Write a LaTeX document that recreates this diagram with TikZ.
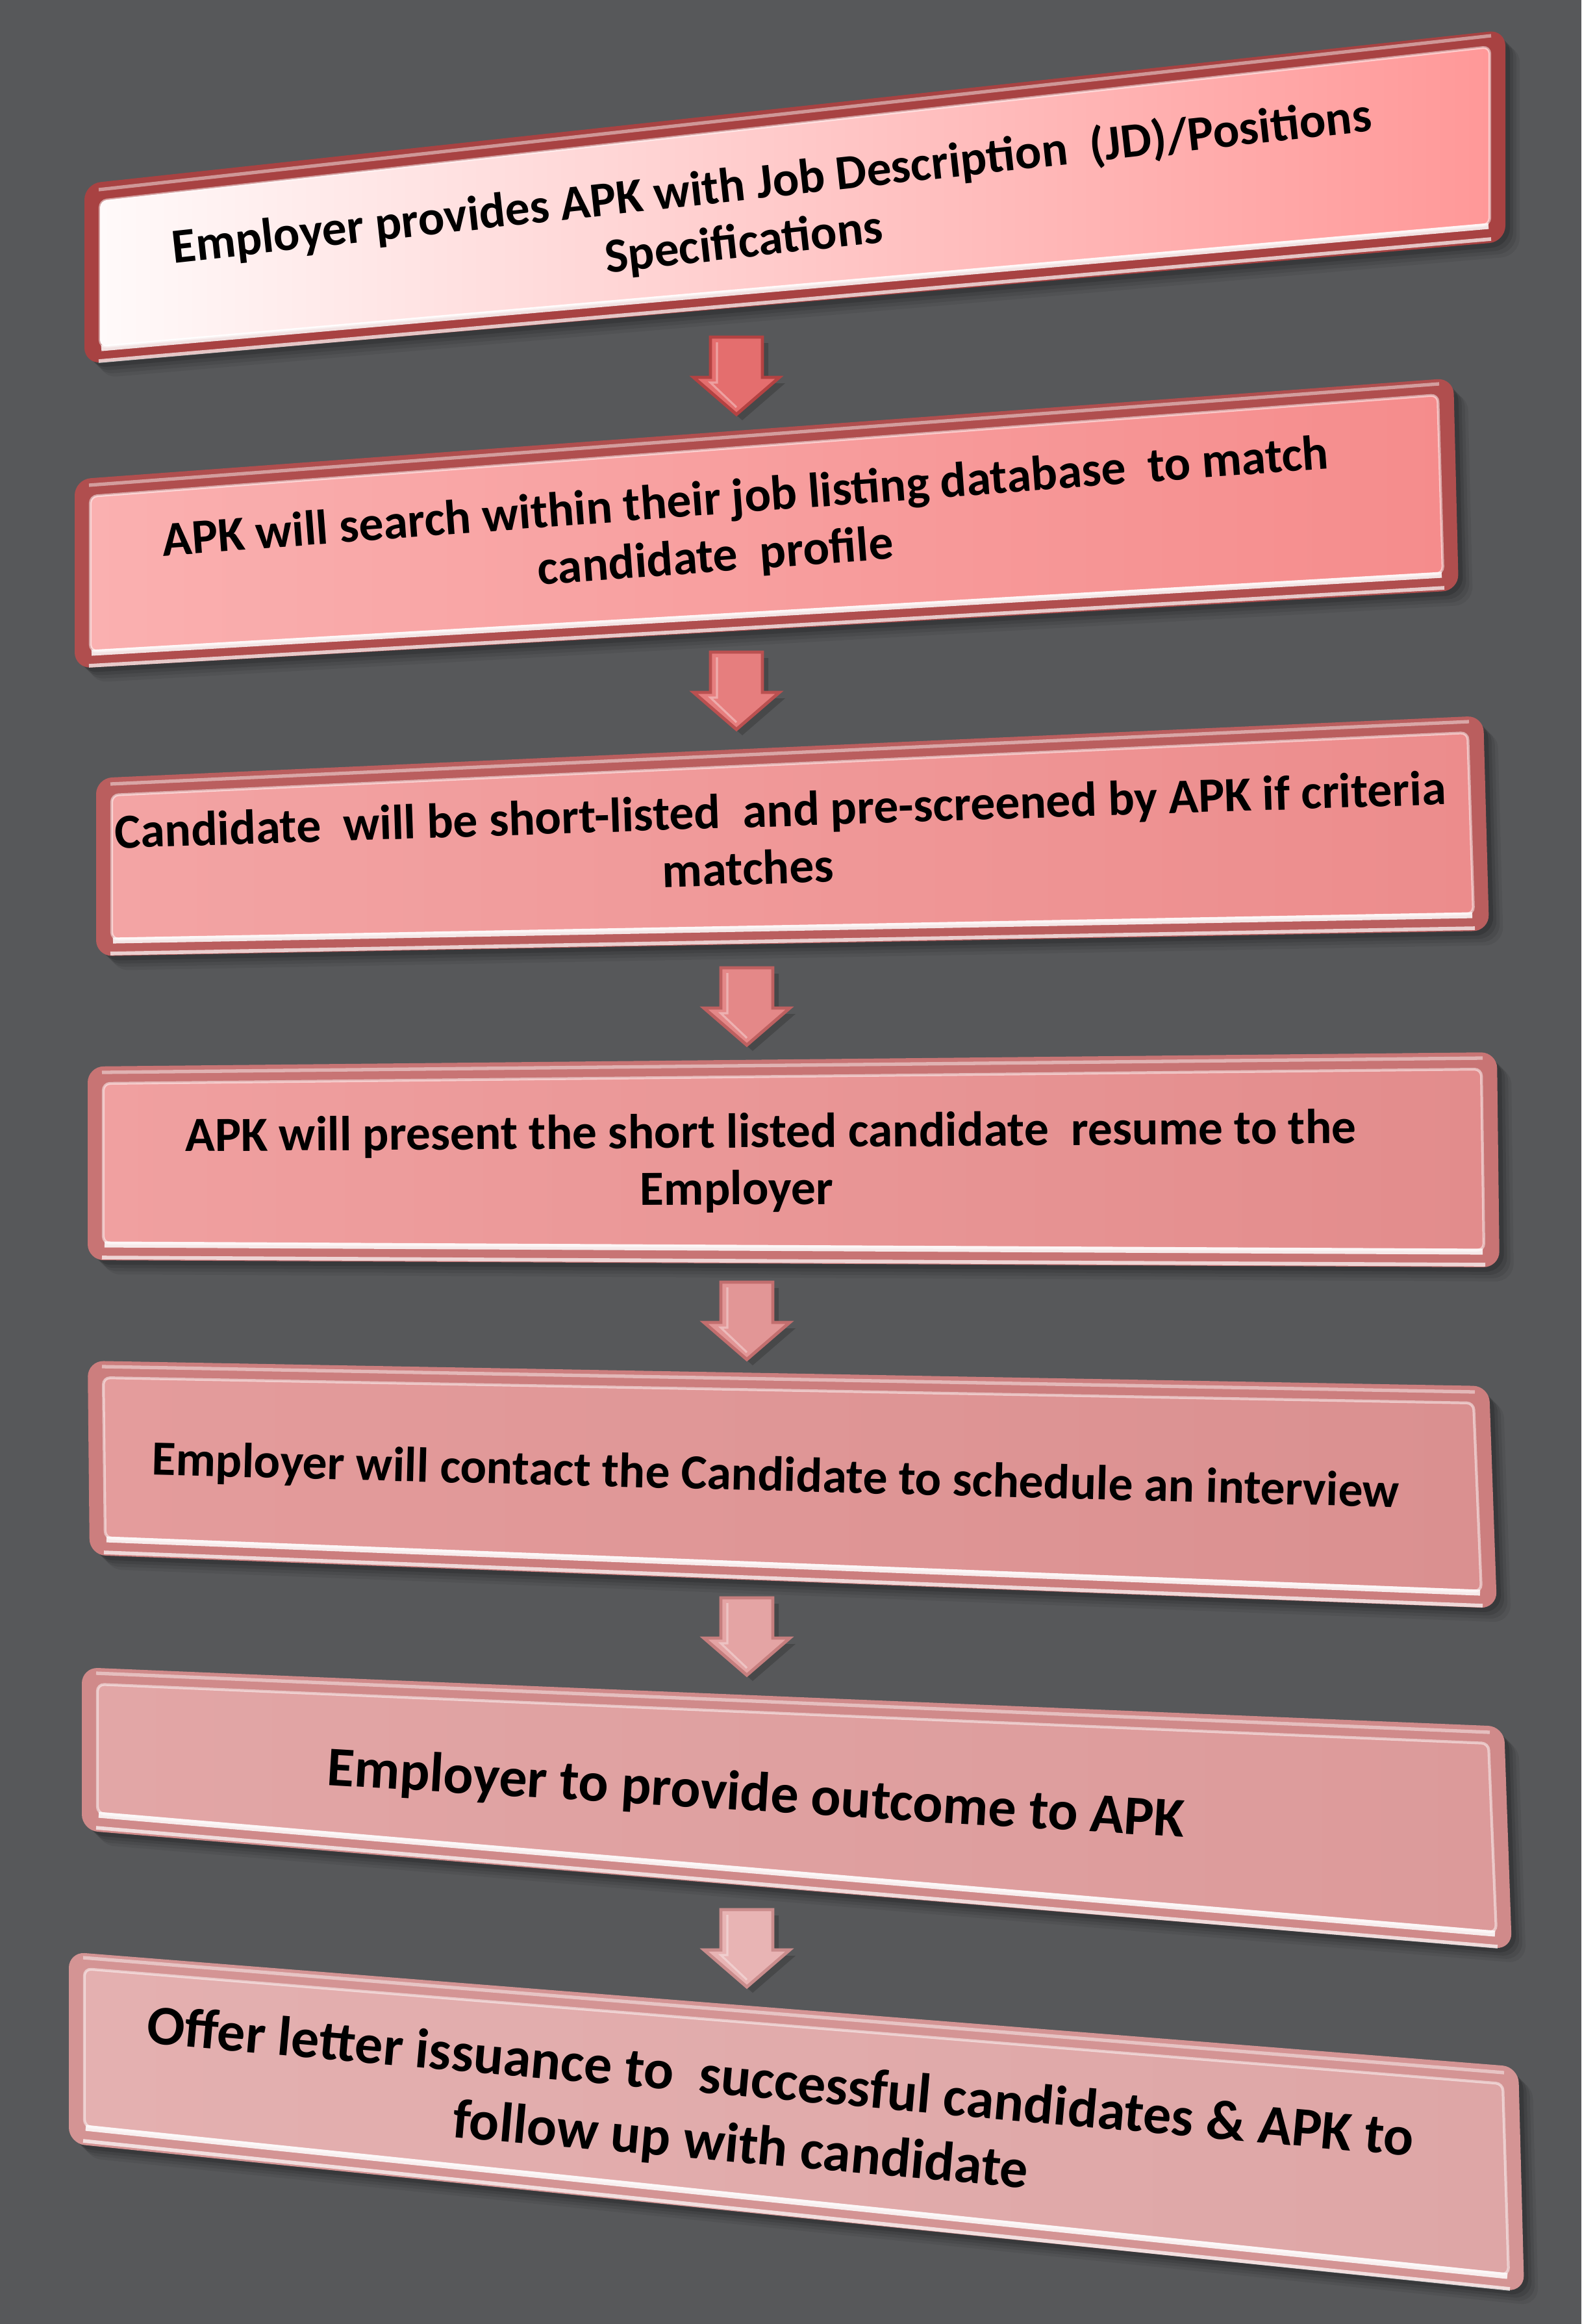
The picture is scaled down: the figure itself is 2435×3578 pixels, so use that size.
\documentclass[tikz,border=0pt]{standalone}
\usepackage{fontspec}
\setmainfont{Carlito}
\usetikzlibrary{calc}
\definecolor{bg}{RGB}{87,88,90}
\definecolor{rimA}{RGB}{168,66,66}
\definecolor{rimB}{RGB}{176,78,78}
\definecolor{rimC}{RGB}{186,94,94}
\definecolor{rimD}{RGB}{200,116,116}
\definecolor{rimE}{RGB}{204,126,126}
\definecolor{rimF}{RGB}{208,138,138}
\definecolor{rimG}{RGB}{212,148,148}
\definecolor{faceAl}{RGB}{255,250,250}
\definecolor{faceAr}{RGB}{255,152,152}
\definecolor{faceBl}{RGB}{250,176,176}
\definecolor{faceBr}{RGB}{245,140,140}
\definecolor{faceCl}{RGB}{243,164,164}
\definecolor{faceCr}{RGB}{236,140,140}
\definecolor{faceDl}{RGB}{240,160,160}
\definecolor{faceDr}{RGB}{226,140,140}
\definecolor{faceEl}{RGB}{228,156,156}
\definecolor{faceEr}{RGB}{218,144,144}
\definecolor{faceFl}{RGB}{226,166,166}
\definecolor{faceFr}{RGB}{220,154,154}
\definecolor{faceGl}{RGB}{228,176,176}
\definecolor{faceGr}{RGB}{222,166,166}
\definecolor{arA}{RGB}{228,110,110}
\definecolor{arAe}{RGB}{180,66,66}
\definecolor{arB}{RGB}{230,126,126}
\definecolor{arBe}{RGB}{186,80,80}
\definecolor{arC}{RGB}{228,136,136}
\definecolor{arCe}{RGB}{190,96,96}
\definecolor{arD}{RGB}{226,150,150}
\definecolor{arDe}{RGB}{194,110,110}
\definecolor{arE}{RGB}{228,164,164}
\definecolor{arEe}{RGB}{198,126,126}
\definecolor{arF}{RGB}{232,180,180}
\definecolor{arFe}{RGB}{202,140,140}
\newcommand\stagequad[8]{%
  \coordinate (#1tl) at (#2);
  \coordinate (#1tr) at (#3);
  \coordinate (#1br) at (#4);
  \coordinate (#1bl) at (#5);
  \foreach \s/\o in {22/0.06,17/0.08,12/0.1,7/0.14}{
    \fill[black,opacity=\o,rounded corners=8pt] ($(#1tl)+(\s,\s)$) -- ($(#1tr)+(\s,\s)$) -- ($(#1br)+(\s,\s)$) -- ($(#1bl)+(\s,\s)$) -- cycle;}
  \fill[#6,rounded corners=7pt] (#1tl) -- (#1tr) -- (#1br) -- (#1bl) -- cycle;
  \draw[white,opacity=0.45,line width=1.5pt] ($(#1tl)+(22,9)$) -- ($(#1tr)+(-22,9)$);
  \draw[white,opacity=0.7,line width=1.6pt] ($(#1bl)+(22,-4)$) -- ($(#1br)+(-22,-4)$);
  \shade[left color=#7,right color=#8,rounded corners=3pt] ($(#1tl)+(24,26)$) -- ($(#1tr)+(-24,26)$) -- ($(#1br)+(-24,-26)$) -- ($(#1bl)+(24,-26)$) -- cycle;
  \draw[white,opacity=0.5,line width=1.2pt,rounded corners=3pt] ($(#1tl)+(24,26)$) -- ($(#1tr)+(-24,26)$) -- ($(#1br)+(-24,-26)$) -- ($(#1bl)+(24,-26)$) -- cycle;
  \draw[white,opacity=0.85,line width=2.6pt] ($(#1bl)+(26,-24)$) -- ($(#1br)+(-26,-24)$);
}
\newcommand\stagearrow[4]{%
  \coordinate (#1) at (#2);
  \fill[black,opacity=0.18,shift={(#1)},xshift=0.09cm,yshift=-0.09cm]
    (-40,0) -- (40,0) -- (40,62) -- (66,62) -- (0,119) -- (-66,62) -- (-40,62) -- cycle;
  \draw[fill=#3,draw=#4,line width=1.4pt,line join=miter,shift={(#1)}]
    (-40,0) -- (40,0) -- (40,62) -- (66,62) -- (0,119) -- (-66,62) -- (-40,62) -- cycle;
  \draw[white,opacity=0.35,line width=0.9pt,shift={(#1)}]
    (-30,8) -- (-30,70) -- (-40,70) -- (0,108);
}
\tikzset{stagetext/.style={align=center,text=black,inner sep=0pt,font=\bfseries\fontsize{21.5}{25}\selectfont}}
\begin{document}
\begin{tikzpicture}[x=0.01cm,y=-0.01cm]
\fill[bg] (0,0) rectangle (2435,3578);
\useasboundingbox (0,0) rectangle (2435,3578);
\stagequad{b1}{130,283}{2318,46}{2318,372}{130,560}{rimA}{faceAl}{faceAr}
\stagequad{b2}{115,738}{2238,582}{2246,909}{115,1029}{rimB}{faceBl}{faceBr}
\stagequad{b3}{148,1198}{2284,1102}{2293,1433}{148,1472}{rimC}{faceCl}{faceCr}
\stagequad{b4}{135,1642}{2305,1620}{2309,1951}{135,1940}{rimD}{faceDl}{faceDr}
\stagequad{b5}{135,2095}{2293,2134}{2305,2476}{138,2394}{rimE}{faceEl}{faceEr}
\stagequad{b6}{126,2567}{2316,2658}{2328,3001}{126,2818}{rimF}{faceFl}{faceFr}
\stagequad{b7}{106,3005}{2338,3182}{2347,3528}{106,3300}{rimG}{faceGl}{faceGr}
\stagearrow{a1}{1134,519}{arA}{arAe}
\stagearrow{a2}{1134,1004}{arB}{arBe}
\stagearrow{a3}{1150,1490}{arC}{arCe}
\stagearrow{a4}{1150,1974}{arD}{arDe}
\stagearrow{a5}{1150,2460}{arE}{arEe}
\stagearrow{a6}{1150,2940}{arF}{arFe}
\node[stagetext,rotate=6.3] (t1) at (1193,325) {Employer provides APK with Job Description\ \ (JD)/Positions\\Specifications\hspace*{30pt}};
\node[stagetext,rotate=4.3] (t2) at (1151,812) {APK will search within their job listing database\ \ to match\\candidate\ \ profile\hspace*{30pt}};
\node[stagetext,rotate=1.9] (t3) at (1203,1290) {Candidate\ \ will be short-listed\ \ and pre-screened by APK if criteria\\matches\hspace*{30pt}};
\node[stagetext,rotate=0.4] (t4) at (1187,1790) {APK will present the short listed candidate\ \ resume to the\\Employer\hspace*{30pt}};
\node[stagetext,rotate=-1.5] (t5) at (1194,2275) {Employer will contact the Candidate to schedule an interview};
\node[stagetext,rotate=-3.5,font=\bfseries\fontsize{24.5}{29}\selectfont] (t6) at (1164,2765) {Employer to provide outcome to APK};
\node[stagetext,rotate=-5.1,font=\bfseries\fontsize{24.5}{29}\selectfont] (t7) at (1197,3260) {Offer letter issuance to\ \ successful candidates \& APK to\\follow up with candidate\hspace*{30pt}};
\end{tikzpicture}
\end{document}
